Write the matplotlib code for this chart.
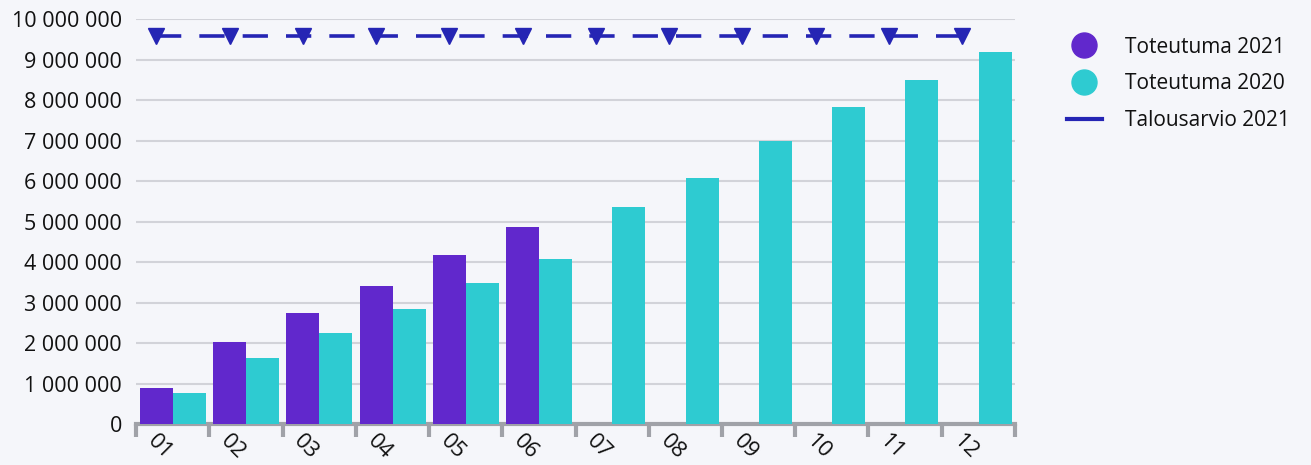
import matplotlib
matplotlib.use("Agg")
import matplotlib.pyplot as plt
import matplotlib.transforms as mtransforms
import numpy as np
from matplotlib.ticker import FuncFormatter, FixedLocator

months = ["01", "02", "03", "04", "05", "06", "07", "08", "09", "10", "11", "12"]
toteutuma_2021 = [890000, 2020000, 2740000, 3410000, 4170000, 4860000,
                  np.nan, np.nan, np.nan, np.nan, np.nan, np.nan]
toteutuma_2020 = [770000, 1630000, 2250000, 2840000, 3480000, 4070000,
                  5360000, 6070000, 6990000, 7830000, 8490000, 9190000]
talousarvio_2021 = [9580000] * 12

BG = "#f5f6fa"
PURPLE = "#6128cc"
CYAN = "#2ecbd1"
NAVY = "#2525b4"

plt.rcParams['font.family'] = ['Open Sans', 'DejaVu Sans']

fig = plt.figure(figsize=(13.11, 4.65), dpi=100, facecolor=BG)
ax = fig.add_axes([136/1311, 1-424/465, (1015-136)/1311, (424-19)/465])
ax.set_facecolor(BG)

x = np.arange(len(months))
w = 0.45
ax.bar(x - 0.222, toteutuma_2021, width=w, color=PURPLE, zorder=3, label="Toteutuma 2021")
ax.bar(x + 0.228, toteutuma_2020, width=w, color=CYAN, zorder=3, label="Toteutuma 2020")
ax.plot(x - 0.222, talousarvio_2021, color=NAVY, lw=2.6, dashes=(7, 5),
        marker="v", markersize=12, zorder=4, label="Talousarvio 2021")

ax.set_xlim(-0.5, len(months) - 0.5)
ax.set_ylim(0, 10000000)
ax.yaxis.set_major_locator(FixedLocator(np.arange(0, 10000001, 1000000)))
ax.yaxis.set_major_formatter(FuncFormatter(lambda v, p: f"{int(v):,}".replace(",", " ")))
ax.grid(axis="y", color="#d2d3d9", lw=1.5, zorder=0)
ax.set_axisbelow(True)

for s in ["left", "right", "top"]:
    ax.spines[s].set_visible(False)
ax.spines["bottom"].set_color("#a0a2a8")
ax.spines["bottom"].set_linewidth(3)

ax.set_xticks(x)
ax.set_xticklabels(months, rotation=-45, ha="center", va="top", fontsize=16)
ax.tick_params(axis="x", which="major", length=0, pad=5)
offset = mtransforms.ScaledTranslation(-13/100, 0, fig.dpi_scale_trans)
for t in ax.get_xticklabels():
    t.set_transform(t.get_transform() + offset)
    t.set_color("#111111")
ax.set_xticks(np.arange(-0.5, len(months), 1), minor=True)
ax.tick_params(axis="x", which="minor", length=9, width=3, color="#a0a2a8")
ax.tick_params(axis="y", length=0, labelsize=15.5, pad=10)
for t in ax.get_yticklabels():
    t.set_color("#111111")

leg = fig.legend(handles=[
    plt.Line2D([], [], marker="o", ls="none", color=PURPLE, markersize=18),
    plt.Line2D([], [], marker="o", ls="none", color=CYAN, markersize=18),
    plt.Line2D([], [], color=NAVY, lw=3)],
    labels=["Toteutuma 2021", "Toteutuma 2020", "Talousarvio 2021"],
    loc="upper left", bbox_to_anchor=(1048/1311, 1-18/465), frameon=False,
    fontsize=15, handlelength=1.7, handletextpad=1.1, labelspacing=0.75)
for t in leg.get_texts():
    t.set_color("#111111")

fig.savefig("out.png", dpi=100, facecolor=BG)
